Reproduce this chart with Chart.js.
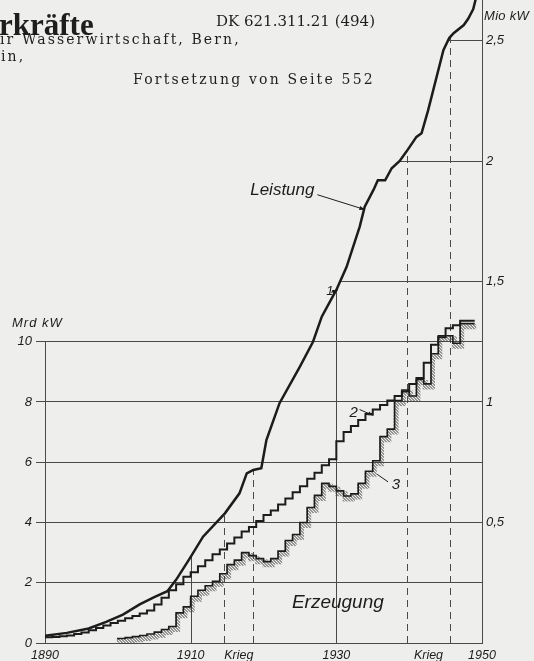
<!DOCTYPE html>
<html>
<head>
<meta charset="utf-8">
<script src="https://cdn.jsdelivr.net/npm/chart.js@4"></script>
<style>
  html, body { margin: 0; padding: 0; background: #eeeeec; }
  #wrap { position: relative; width: 534px; height: 661px; overflow: hidden; }
  canvas { position: absolute; left: 0; top: 0; }
  .hd { position: absolute; white-space: nowrap; color: #1e1e1e; line-height: 1; font-family: "DejaVu Serif", serif; }
</style>
</head>
<body>
<div id="wrap">
  <canvas id="chart" width="534" height="661"></canvas>
  <div class="hd" style="left:-1px;top:9px;font-size:31px;font-weight:bold;font-family:'Liberation Serif',serif;">rkräfte</div>
  <div class="hd" style="left:216px;top:14px;font-size:15px;">DK 621.311.21 (494)</div>
  <div class="hd" style="left:0px;top:32px;font-size:14px;letter-spacing:2.1px;">ır Wasserwirtschaft, Bern,</div>
  <div class="hd" style="left:1px;top:49px;font-size:14px;letter-spacing:2.1px;">in,</div>
  <div class="hd" style="left:133px;top:72px;font-size:14px;letter-spacing:2.2px;">Fortsetzung von Seite 552</div>
</div>
<script>
// Kurve 1: installierte Leistung (Mio kW, rechte Achse)
const leistungYears = [1890, 1893, 1896, 1898.4, 1900.7, 1903, 1905, 1906.8, 1908, 1909.9, 1911.7, 1914.7,
  1916.7, 1917.7, 1918.6, 1919.7, 1920.4, 1922.2, 1925, 1926.8, 1928, 1930, 1931.4, 1933.2, 1933.9,
  1935.1, 1935.7, 1936.7, 1937.6, 1938.7, 1939.65, 1941, 1941.7, 1942.6, 1944.7, 1945.5, 1946.1,
  1947.5, 1948.1, 1948.8, 1949.2];
const leistung = [0.03, 0.042, 0.06, 0.088, 0.118, 0.16, 0.19, 0.215, 0.262, 0.352, 0.441, 0.538,
  0.621, 0.704, 0.718, 0.725, 0.842, 0.995, 1.147, 1.25, 1.354, 1.465, 1.56, 1.727, 1.81,
  1.88, 1.92, 1.92, 1.97, 2.0, 2.04, 2.10, 2.115, 2.21, 2.46, 2.51, 2.53,
  2.564, 2.59, 2.63, 2.68];

// Kurve 2: mögliche Erzeugung (Mrd kWh, linke Achse), ab 1890 jährlich
const erzeugung2Start = 1890;
const erzeugung2 = [0.18, 0.19, 0.2, 0.22, 0.25, 0.3, 0.35, 0.42, 0.5, 0.58,
  0.66, 0.74, 0.82, 0.9, 0.98, 1.08, 1.28, 1.5, 1.75, 1.95,
  2.2, 2.35, 2.55, 2.75, 2.95, 3.1, 3.3, 3.5, 3.7, 3.85,
  4.05, 4.25, 4.4, 4.6, 4.8, 5.0, 5.2, 5.45, 5.65, 5.9,
  6.1, 6.7, 7.0, 7.2, 7.4, 7.6, 7.75, 7.9, 8.05, 8.2,
  8.35, 8.6, 8.8, 9.3, 9.9, 10.15, 10.45, 10.55, 10.7];

// Kurve 3: tatsächliche Erzeugung (Mrd kWh, linke Achse), ab 1900 jährlich
const erzeugung3Start = 1900;
const erzeugung3 = [0.12, 0.15, 0.18, 0.21, 0.25, 0.3, 0.36, 0.45, 0.55, 1.0,
  1.2, 1.55, 1.75, 1.9, 2.05, 2.3, 2.6, 2.75, 3.0, 2.9,
  2.8, 2.7, 2.8, 3.05, 3.4, 3.6, 4.0, 4.5, 4.9, 5.3,
  5.2, 5.05, 4.88, 4.95, 5.3, 5.7, 6.05, 6.85, 7.1, 8.05,
  8.4, 8.2, 8.75, 8.6, 9.6, 10.2, 10.2, 9.95, 10.6];

const yearTicks = [1890, 1910, 1930, 1950];
const leftTicks = [0, 2, 4, 6, 8, 10];
const rightTicks = [0.5, 1, 1.5, 2, 2.5];
const partialLevels = [1.5, 2, 2.5];      // Mio kW, Linien ab Kurve 1
const solidYears = [1910, 1930];
const kriege = [[1914.6, 1918.6], [1939.7, 1945.6]];

const kWperKWh = 8;          // 1 Mio kW  <->  8 Mrd kWh
const rightMax = 2.668;

function steps(start, vals) {
  const pts = vals.map((v, i) => ({ x: start + i, y: v }));
  pts.push({ x: start + vals.length, y: vals[vals.length - 1] });
  return pts;
}
function leistungAt(year) {
  for (let i = 1; i < leistungYears.length; i++) {
    if (year <= leistungYears[i]) {
      const t = (year - leistungYears[i - 1]) / (leistungYears[i] - leistungYears[i - 1]);
      return leistung[i - 1] + t * (leistung[i] - leistung[i - 1]);
    }
  }
  return leistung[leistung.length - 1];
}
function leistungYear(v) {
  for (let i = 1; i < leistung.length; i++) {
    if (v <= leistung[i]) {
      const t = (v - leistung[i - 1]) / (leistung[i] - leistung[i - 1]);
      return leistungYears[i - 1] + t * (leistungYears[i] - leistungYears[i - 1]);
    }
  }
  return leistungYears[leistungYears.length - 1];
}

const hatch = document.createElement('canvas');
hatch.width = 3; hatch.height = 3;
const hc = hatch.getContext('2d');
hc.strokeStyle = '#3a3a3a'; hc.lineWidth = 1;
hc.beginPath(); hc.moveTo(0, 0); hc.lineTo(3, 3); hc.stroke();
const hatchPattern = document.getElementById('chart').getContext('2d').createPattern(hatch, 'repeat');

const ink = '#1c1c1c';
const gridColor = '#4a4a4a';
const labelFont = { family: 'Liberation Sans', style: 'italic', size: 13 };
const noPad = s => { s.paddingTop = 0; s.paddingBottom = 0; };

const guides = {
  id: 'guides',
  beforeDatasetsDraw(chart) {
    const { ctx, scales: { x, y, y1 } } = chart;
    const seg = (x0, y0, x1, y1p) => { ctx.beginPath(); ctx.moveTo(x0, y0); ctx.lineTo(x1, y1p); ctx.stroke(); };
    ctx.save();
    ctx.strokeStyle = gridColor;
    ctx.lineWidth = 1;
    seg(x.left + 0.5, y.getPixelForValue(0), x.left + 0.5, y.getPixelForValue(10));
    partialLevels.forEach(v => {
      const py = Math.round(y1.getPixelForValue(v)) + 0.5;
      seg(x.getPixelForValue(leistungYear(v)), py, x.right, py);
    });
    solidYears.forEach(yr => {
      const px = Math.round(x.getPixelForValue(yr)) + 0.5;
      seg(px, y.bottom, px, y1.getPixelForValue(leistungAt(yr)));
    });
    ctx.setLineDash([7, 5]);
    kriege.flat().forEach(yr => {
      const px = Math.round(x.getPixelForValue(yr)) + 0.5;
      seg(px, y.bottom, px, y1.getPixelForValue(leistungAt(yr)));
    });
    ctx.restore();
  },
  beforeDatasetDraw(chart, args) {
    if (args.meta._dataset.hatch) { chart.ctx.save(); chart.ctx.translate(1.5, 3); }
  },
  afterDatasetDraw(chart, args) {
    if (args.meta._dataset.hatch) chart.ctx.restore();
  },
  afterDraw(chart) {
    const { ctx, scales: { x, y, y1 } } = chart;
    ctx.save();
    ctx.fillStyle = ink;
    ctx.strokeStyle = ink;
    ctx.lineWidth = 1;
    ctx.textBaseline = 'middle';
    ctx.font = 'italic 13px "Liberation Sans"';
    ctx.textAlign = 'left';
    ctx.letterSpacing = '1px';
    ctx.fillText('Mrd kW', 12, y.getPixelForValue(10.6));
    ctx.letterSpacing = '0.3px';
    ctx.fillText('Mio kW', x.right + 2, y1.getPixelForValue(2.6));
    ctx.letterSpacing = '0px';
    const arrow = (ax, ay, bx, by) => {
      ctx.beginPath(); ctx.moveTo(ax, ay); ctx.lineTo(bx, by); ctx.stroke();
      const a = Math.atan2(by - ay, bx - ax);
      ctx.beginPath();
      ctx.moveTo(bx, by);
      ctx.lineTo(bx - 6 * Math.cos(a - 0.35), by - 6 * Math.sin(a - 0.35));
      ctx.lineTo(bx - 6 * Math.cos(a + 0.35), by - 6 * Math.sin(a + 0.35));
      ctx.closePath(); ctx.fill();
    };
    ctx.font = 'italic 17px "Liberation Sans"';
    ctx.textAlign = 'right';
    ctx.fillText('Leistung', x.getPixelForValue(1927), y1.getPixelForValue(1.88));
    arrow(x.getPixelForValue(1927.4), y1.getPixelForValue(1.86),
          x.getPixelForValue(1933.8) + 1, y1.getPixelForValue(leistungAt(1933.8)));
    ctx.font = 'italic 13px "Liberation Sans"';
    ctx.textAlign = 'left';
    ctx.fillText('1', x.getPixelForValue(1928.6), y1.getPixelForValue(1.46));
    arrow(x.getPixelForValue(1929.3), y1.getPixelForValue(1.455),
          x.getPixelForValue(1930.2), y1.getPixelForValue(1.465));
    ctx.font = 'italic 15px "Liberation Sans"';
    ctx.fillText('2', x.getPixelForValue(1931.8), y.getPixelForValue(7.65));
    arrow(x.getPixelForValue(1933.2), y.getPixelForValue(7.75),
          x.getPixelForValue(1935.1), y.getPixelForValue(7.55));
    ctx.fillText('3', x.getPixelForValue(1937.6), y.getPixelForValue(5.25));
    ctx.beginPath();
    ctx.moveTo(x.getPixelForValue(1937.1), y.getPixelForValue(5.35));
    ctx.lineTo(x.getPixelForValue(1935.6), y.getPixelForValue(5.6));
    ctx.stroke();
    ctx.font = 'italic 19px "Liberation Sans"';
    ctx.fillText('Erzeugung', x.getPixelForValue(1923.9), y.getPixelForValue(1.33));
    ctx.restore();
  }
};

new Chart(document.getElementById('chart').getContext('2d'), {
  type: 'line',
  data: {
    datasets: [
      {
        label: 'Leistung',
        data: leistungYears.map((yr, i) => ({ x: yr, y: leistung[i] })),
        yAxisID: 'y1',
        borderColor: ink,
        borderWidth: 2.5,
        pointRadius: 0,
        tension: 0,
        order: 1
      },
      {
        label: 'Erzeugung 2',
        data: steps(erzeugung2Start, erzeugung2),
        yAxisID: 'y',
        stepped: 'after',
        borderColor: ink,
        borderWidth: 2,
        pointRadius: 0,
        order: 1
      },
      {
        label: 'Erzeugung 3',
        data: steps(erzeugung3Start, erzeugung3),
        yAxisID: 'y',
        stepped: 'after',
        borderColor: ink,
        borderWidth: 1.6,
        pointRadius: 0,
        order: 1
      },
      {
        label: 'Schraffur',
        hatch: true,
        data: steps(erzeugung3Start, erzeugung3),
        yAxisID: 'y',
        stepped: 'after',
        borderColor: hatchPattern,
        borderWidth: 5,
        pointRadius: 0,
        order: 3
      }
    ]
  },
  options: {
    responsive: false,
    animation: false,
    devicePixelRatio: 1,
    layout: { padding: 0 },
    plugins: { legend: { display: false }, tooltip: { enabled: false } },
    scales: {
      x: {
        type: 'linear',
        min: 1890,
        max: 1950,
        afterBuildTicks: s => {
          s.ticks = yearTicks.concat(kriege.map(k => (k[0] + k[1]) / 2)).map(v => ({ value: v }));
        },
        afterFit: s => { s.height = 18; },
        grid: { display: false, drawTicks: false },
        border: { display: true, color: gridColor, width: 1 },
        ticks: {
          autoSkip: false,
          maxRotation: 0,
          padding: 5,
          color: ink,
          font: { family: 'Liberation Sans', style: 'italic', size: 12.5 },
          callback: v => yearTicks.includes(v) ? String(v) : 'Krieg'
        }
      },
      y: {
        type: 'linear',
        position: 'left',
        min: 0,
        max: rightMax * kWperKWh,
        afterBuildTicks: s => { s.ticks = leftTicks.map(v => ({ value: v })); },
        afterFit: s => { s.width = 45; noPad(s); },
        grid: { color: gridColor, lineWidth: 1, tickLength: 9, drawTicks: true },
        border: { display: false },
        ticks: { color: ink, font: labelFont, padding: 4 }
      },
      y1: {
        type: 'linear',
        position: 'right',
        min: 0,
        max: rightMax,
        afterBuildTicks: s => { s.ticks = rightTicks.map(v => ({ value: v })); },
        afterFit: s => { s.width = 52; noPad(s); },
        grid: { drawOnChartArea: false, drawTicks: false },
        border: { display: true, color: gridColor, width: 1 },
        ticks: {
          color: ink,
          font: labelFont,
          padding: 4,
          callback: v => String(v).replace('.', ',')
        }
      }
    }
  },
  plugins: [guides]
});
</script>
</body>
</html>
